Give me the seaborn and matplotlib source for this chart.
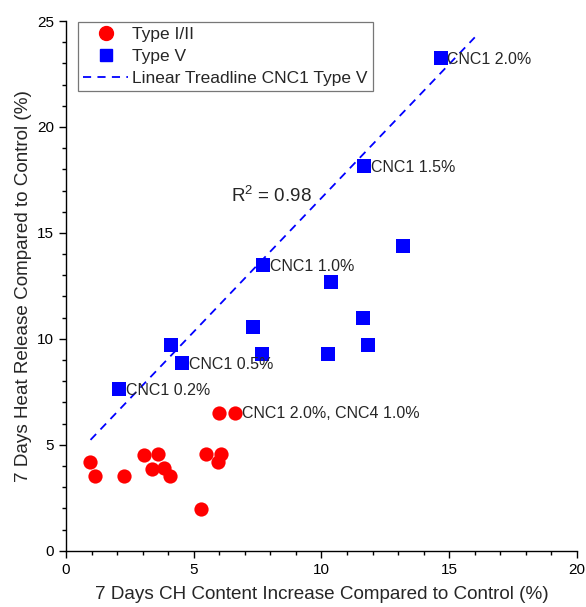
import numpy as np
import pandas as pd
import seaborn as sns
import matplotlib
matplotlib.use("Agg")
import matplotlib.pyplot as plt
from matplotlib.ticker import MultipleLocator
from matplotlib.lines import Line2D

# ---- data ----
type12_x = [0.94, 1.13, 2.27, 3.06, 3.35, 3.62, 3.82, 4.06, 5.27, 5.47, 5.95, 6.05, 5.98, 6.61]
type12_y = [4.21, 3.55, 3.55, 4.53, 3.87, 4.56, 3.90, 3.55, 1.97, 4.56, 4.18, 4.56, 6.50, 6.50]

type5_x = [2.07, 4.10, 4.56, 7.32, 7.67, 7.71, 10.25, 10.39, 11.63, 11.82, 11.65, 13.20, 14.66]
type5_y = [7.64, 9.70, 8.87, 10.55, 9.29, 13.50, 9.29, 12.70, 11.00, 9.70, 18.17, 14.37, 23.26]

# CNC1 Type V points (used for the linear treadline)
cnc1_x = [2.07, 4.56, 7.71, 11.65, 14.66]
cnc1_y = [7.64, 8.87, 13.50, 18.17, 23.26]
cnc1_labels = ["CNC1 0.2%", "CNC1 0.5%", "CNC1 1.0%", "CNC1 1.5%", "CNC1 2.0%"]

red_label_x = [6.61]
red_label_y = [6.50]
red_labels = ["CNC1 2.0%, CNC4 1.0%"]

trend_range = [0.96, 16.0]
r2_text = "R$^2$ = 0.98"

# ---- style ----
sns.set_style("ticks")
plt.rcParams["font.family"] = ["Liberation Sans", "DejaVu Sans"]
plt.rcParams["mathtext.fontset"] = "custom"
plt.rcParams["mathtext.rm"] = "Liberation Sans"

fig = plt.figure(figsize=(5.86, 6.07), dpi=100)
ax = fig.add_axes([0.1126, 0.0927, 0.872, 0.8727])

df12 = pd.DataFrame({"x": type12_x, "y": type12_y})
df5 = pd.DataFrame({"x": type5_x, "y": type5_y})

sns.scatterplot(data=df12, x="x", y="y", ax=ax, color="#ff0000", marker="o",
                s=105, linewidth=0, zorder=3)
sns.scatterplot(data=df5, x="x", y="y", ax=ax, color="#0000ff", marker="s",
                s=95, linewidth=0, zorder=3)

slope, intercept = np.polyfit(cnc1_x, cnc1_y, 1)
tx = np.array(trend_range)
sns.lineplot(x=tx, y=slope * tx + intercept, ax=ax, color="#0000ff",
             linewidth=1.3, zorder=2)
ax.lines[-1].set_dashes((4.5, 3.5))

for x, y, t in zip(cnc1_x, cnc1_y, cnc1_labels):
    ax.annotate(t, (x, y), xytext=(5, -1), textcoords="offset points",
                ha="left", va="center", fontsize=11.5)
for x, y, t in zip(red_label_x, red_label_y, red_labels):
    ax.annotate(t, (x, y), xytext=(5, 0), textcoords="offset points",
                ha="left", va="center", fontsize=11.5)

ax.text(8.05, 16.74, r2_text, ha="center", va="center", fontsize=13.5)

ax.set_xlim(0, 20)
ax.set_ylim(0, 25)
ax.xaxis.set_major_locator(MultipleLocator(5))
ax.xaxis.set_minor_locator(MultipleLocator(1))
ax.yaxis.set_major_locator(MultipleLocator(5))
ax.yaxis.set_minor_locator(MultipleLocator(1))
ax.tick_params(which="major", direction="out", length=5, width=1, labelsize=11,
               color="black", labelcolor="black")
ax.tick_params(which="minor", direction="out", length=3, width=1, color="black")
for s in ["left", "bottom"]:
    ax.spines[s].set_color("black")
    ax.spines[s].set_linewidth(1)
sns.despine(ax=ax)

ax.set_xlabel("7 Days CH Content Increase Compared to Control (%)", fontsize=13.6, labelpad=7)
ax.set_ylabel("7 Days Heat Release Compared to Control (%)", fontsize=13.6, labelpad=4)

handles = [
    Line2D([], [], linestyle="none", marker="o", markersize=10, color="#ff0000"),
    Line2D([], [], linestyle="none", marker="s", markersize=9, color="#0000ff"),
    Line2D([], [], linestyle=(0, (4.5, 3.5)), linewidth=1.3, color="#0000ff"),
]
labels = ["Type I/II", "Type V", "Linear Treadline CNC1 Type V"]
leg = ax.legend(handles, labels, loc="upper left", bbox_to_anchor=(0.0235, 0.998),
                borderaxespad=0, fontsize=12.5, frameon=True, fancybox=False,
                handlelength=2.6, handletextpad=0.2, labelspacing=0.38,
                borderpad=0.3)
leg.get_frame().set_edgecolor("#555555")
leg.get_frame().set_linewidth(0.9)

fig.savefig("out.png", dpi=100)
